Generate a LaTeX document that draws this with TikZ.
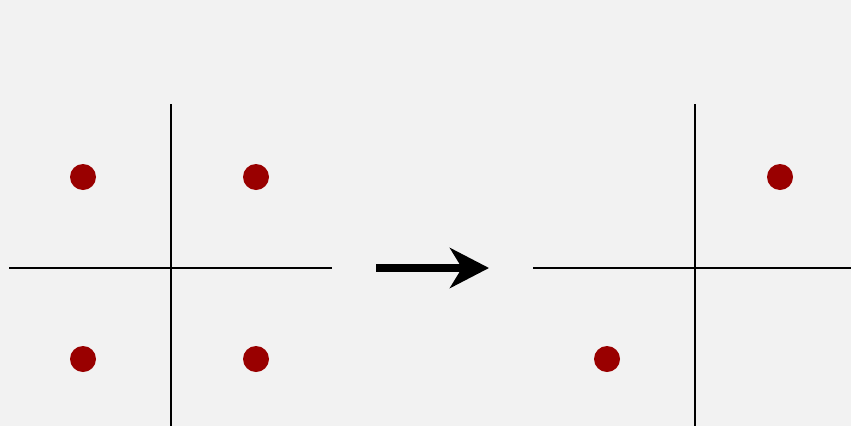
\documentclass[tikz,border=0pt]{standalone}
\usetikzlibrary{arrows.meta}
\definecolor{bg}{HTML}{F2F2F2}
\definecolor{dotred}{HTML}{990000}
\begin{document}
\begin{tikzpicture}[x=1pt,y=-1pt,
  axis/.style={line width=2pt,black},
  pt/.style={circle,fill=dotred,minimum size=26pt,inner sep=0pt},
  bigarrow/.style={line width=8pt,-{Stealth[length=39pt,width=40pt,inset=12pt]}}]
\fill[bg] (0,0) rectangle (851,426);
\useasboundingbox (0,0) rectangle (851,426);
% left cross
\coordinate (lt) at (171,104); \coordinate (lb) at (171,426);
\coordinate (ll) at (9,268); \coordinate (lr) at (332,268);
\draw[axis] (lt) -- (lb);
\draw[axis] (ll) -- (lr);
\node[pt] (p1) at (83,177) {};
\node[pt] (p2) at (256,177) {};
\node[pt] (p3) at (83,359) {};
\node[pt] (p4) at (256,359) {};
% arrow
\coordinate (as) at (376,268); \coordinate (ae) at (489,268);
\draw[bigarrow] (as) -- (ae);
% right cross
\coordinate (rt) at (695,104); \coordinate (rb) at (695,426);
\coordinate (rl) at (533,268); \coordinate (rr) at (851,268);
\draw[axis] (rt) -- (rb);
\draw[axis] (rl) -- (rr);
\node[pt] (q1) at (780,177) {};
\node[pt] (q2) at (607,359) {};
\end{tikzpicture}
\end{document}
